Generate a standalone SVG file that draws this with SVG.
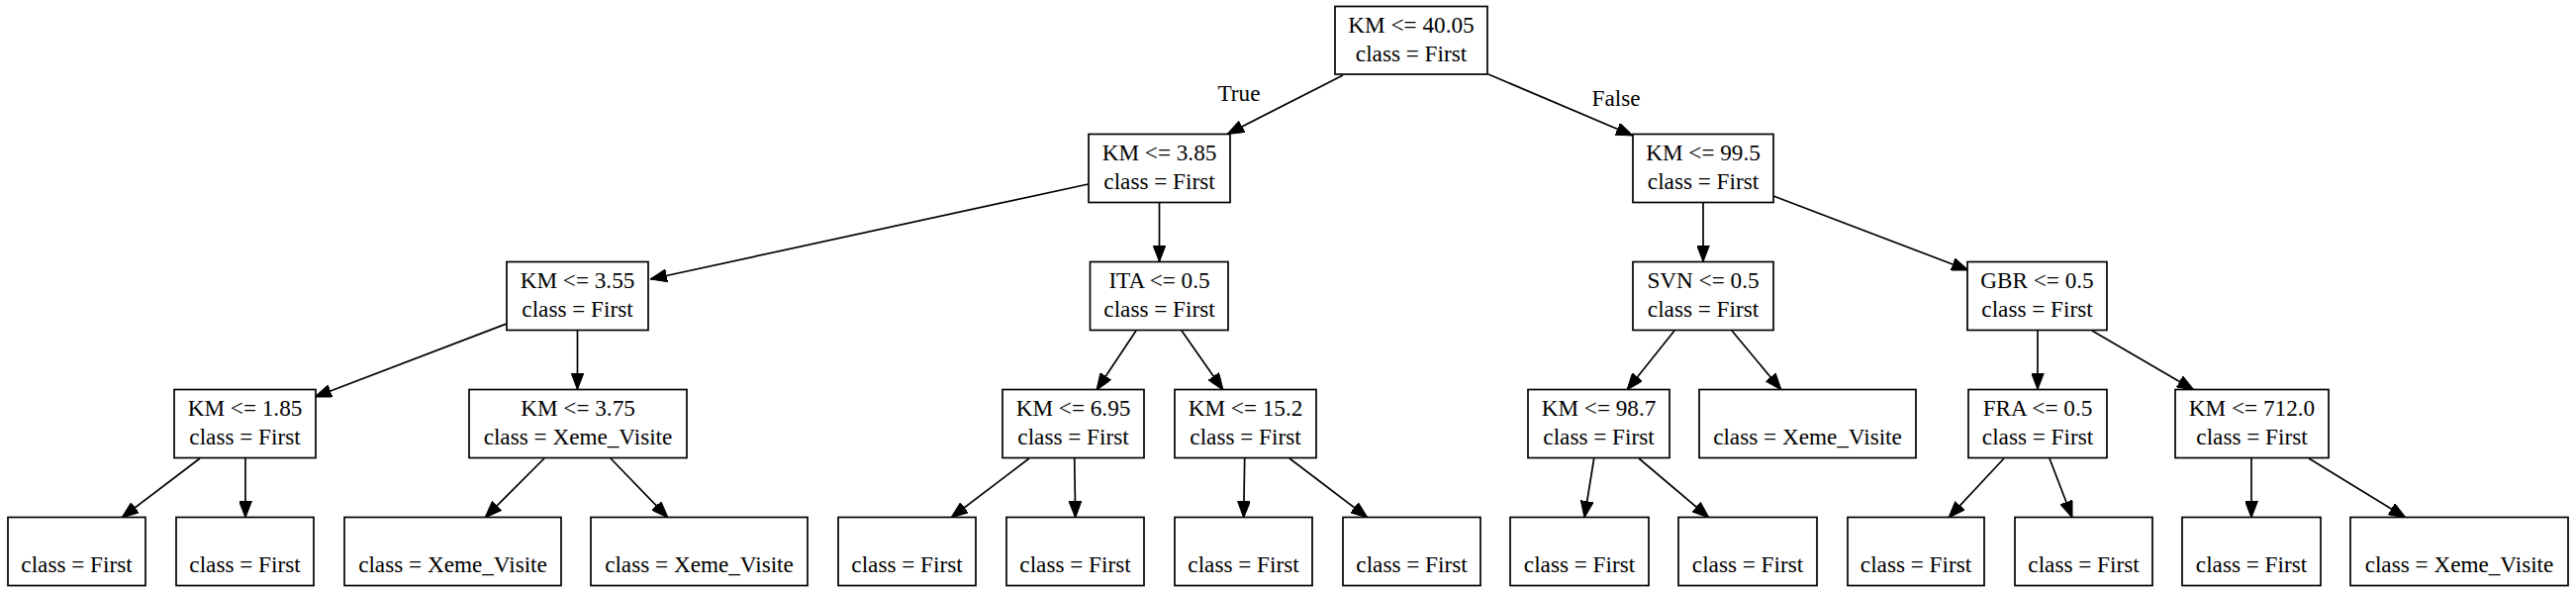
<svg xmlns="http://www.w3.org/2000/svg" width="2603" height="598" viewBox="0 0 2603 598">
<style>
.n rect{fill:#fff;stroke:#000;stroke-width:1.7}
text{font-family:"Liberation Serif","Times New Roman",serif;font-size:23.2px;fill:#000;text-anchor:middle}
.e path{fill:none;stroke:#000;stroke-width:1.7;marker-end:url(#ah)}
</style>
<defs>
<marker id="ah" viewBox="0 0 17 13" refX="17" refY="6.5" markerWidth="17" markerHeight="13" markerUnits="userSpaceOnUse" orient="auto">
<path d="M0,0 L17,6.5 L0,13 Z" fill="#000" stroke="#000" stroke-width="1"/>
</marker>
</defs>
<rect width="2603" height="598" fill="#fff"/>
<g class="e" id="edges">
<path d="M1357,76 L1240,135.5"/>
<path d="M1504,75 L1650,137"/>
<path d="M1099.7,186 L657,282"/>
<path d="M1171.5,205 L1171.5,264.5"/>
<path d="M1721,205 L1721,264.5"/>
<path d="M1792,198 L1989,273"/>
<path d="M512,327 L318,401"/>
<path d="M583.5,334 L583.5,393.5"/>
<path d="M1148,334 L1108,394"/>
<path d="M1194,334 L1236,394"/>
<path d="M1692,334 L1644,394"/>
<path d="M1750,334 L1800,394"/>
<path d="M2059,334 L2059,393.5"/>
<path d="M2114,334 L2217,394"/>
<path d="M202,463 L123,523"/>
<path d="M248,463 L248,523"/>
<path d="M550,463 L490,523"/>
<path d="M617,463 L675,523"/>
<path d="M1040,463 L961,523"/>
<path d="M1085.7,463 L1086.7,523"/>
<path d="M1257.7,463 L1256.7,523"/>
<path d="M1303,463 L1382,523"/>
<path d="M1610.7,463 L1601,523"/>
<path d="M1656,463 L1727,523"/>
<path d="M2025,463 L1969,523"/>
<path d="M2071,463 L2094,523"/>
<path d="M2275,463 L2275,523"/>
<path d="M2333,463 L2431,523"/>
<text x="1252" y="102">True</text>
<text x="1633" y="107">False</text>
</g>
<g class="n" id="n0"><rect x="1349" y="6.5" width="154" height="68.5"/><text x="1426" y="33">KM &lt;= 40.05</text><text x="1426" y="62">class = First</text></g>
<g class="n" id="n1"><rect x="1100" y="135.5" width="143" height="69"/><text x="1171.5" y="162">KM &lt;= 3.85</text><text x="1171.5" y="191">class = First</text></g>
<g class="n" id="n2"><rect x="512" y="264.5" width="143" height="69"/><text x="583.5" y="291">KM &lt;= 3.55</text><text x="583.5" y="320">class = First</text></g>
<g class="n" id="n3"><rect x="176" y="393.5" width="143" height="69"/><text x="247.5" y="420">KM &lt;= 1.85</text><text x="247.5" y="449">class = First</text></g>
<g class="n" id="n4"><rect x="8" y="522.5" width="139" height="69"/><text x="77.5" y="578">class = First</text></g>
<g class="n" id="n5"><rect x="178" y="522.5" width="139" height="69"/><text x="247.5" y="578">class = First</text></g>
<g class="n" id="n6"><rect x="474" y="393.5" width="220" height="69"/><text x="584" y="420">KM &lt;= 3.75</text><text x="584" y="449">class = Xeme_Visite</text></g>
<g class="n" id="n7"><rect x="348" y="522.5" width="219" height="69"/><text x="457.5" y="578">class = Xeme_Visite</text></g>
<g class="n" id="n8"><rect x="597" y="522.5" width="219" height="69"/><text x="706.5" y="578">class = Xeme_Visite</text></g>
<g class="n" id="n9"><rect x="1101.5" y="264.5" width="139.5" height="69"/><text x="1171.5" y="291">ITA &lt;= 0.5</text><text x="1171.5" y="320">class = First</text></g>
<g class="n" id="n10"><rect x="1013" y="393.5" width="143" height="69"/><text x="1084.5" y="420">KM &lt;= 6.95</text><text x="1084.5" y="449">class = First</text></g>
<g class="n" id="n11"><rect x="847" y="522.5" width="139" height="69"/><text x="916.5" y="578">class = First</text></g>
<g class="n" id="n12"><rect x="1017" y="522.5" width="139" height="69"/><text x="1086.5" y="578">class = First</text></g>
<g class="n" id="n13"><rect x="1187" y="393.5" width="143" height="69"/><text x="1258.5" y="420">KM &lt;= 15.2</text><text x="1258.5" y="449">class = First</text></g>
<g class="n" id="n14"><rect x="1187" y="522.5" width="139" height="69"/><text x="1256.5" y="578">class = First</text></g>
<g class="n" id="n15"><rect x="1357" y="522.5" width="139" height="69"/><text x="1426.5" y="578">class = First</text></g>
<g class="n" id="n16"><rect x="1650" y="135.5" width="142" height="69"/><text x="1721" y="162">KM &lt;= 99.5</text><text x="1721" y="191">class = First</text></g>
<g class="n" id="n17"><rect x="1650" y="264.5" width="142" height="69"/><text x="1721" y="291">SVN &lt;= 0.5</text><text x="1721" y="320">class = First</text></g>
<g class="n" id="n18"><rect x="1544" y="393.5" width="143" height="69"/><text x="1615.5" y="420">KM &lt;= 98.7</text><text x="1615.5" y="449">class = First</text></g>
<g class="n" id="n19"><rect x="1526" y="522.5" width="140" height="69"/><text x="1596" y="578">class = First</text></g>
<g class="n" id="n20"><rect x="1696" y="522.5" width="140" height="69"/><text x="1766" y="578">class = First</text></g>
<g class="n" id="n21"><rect x="1717" y="393.5" width="219" height="69"/><text x="1826.5" y="449">class = Xeme_Visite</text></g>
<g class="n" id="n22"><rect x="1988" y="264.5" width="141" height="69"/><text x="2058.5" y="291">GBR &lt;= 0.5</text><text x="2058.5" y="320">class = First</text></g>
<g class="n" id="n23"><rect x="1989" y="393.5" width="140" height="69"/><text x="2059" y="420">FRA &lt;= 0.5</text><text x="2059" y="449">class = First</text></g>
<g class="n" id="n24"><rect x="1867" y="522.5" width="138" height="69"/><text x="1936" y="578">class = First</text></g>
<g class="n" id="n25"><rect x="2036" y="522.5" width="139" height="69"/><text x="2105.5" y="578">class = First</text></g>
<g class="n" id="n26"><rect x="2198" y="393.5" width="155" height="69"/><text x="2275.5" y="420">KM &lt;= 712.0</text><text x="2275.5" y="449">class = First</text></g>
<g class="n" id="n27"><rect x="2205" y="522.5" width="140" height="69"/><text x="2275" y="578">class = First</text></g>
<g class="n" id="n28"><rect x="2375" y="522.5" width="220" height="69"/><text x="2485" y="578">class = Xeme_Visite</text></g>
</svg>
